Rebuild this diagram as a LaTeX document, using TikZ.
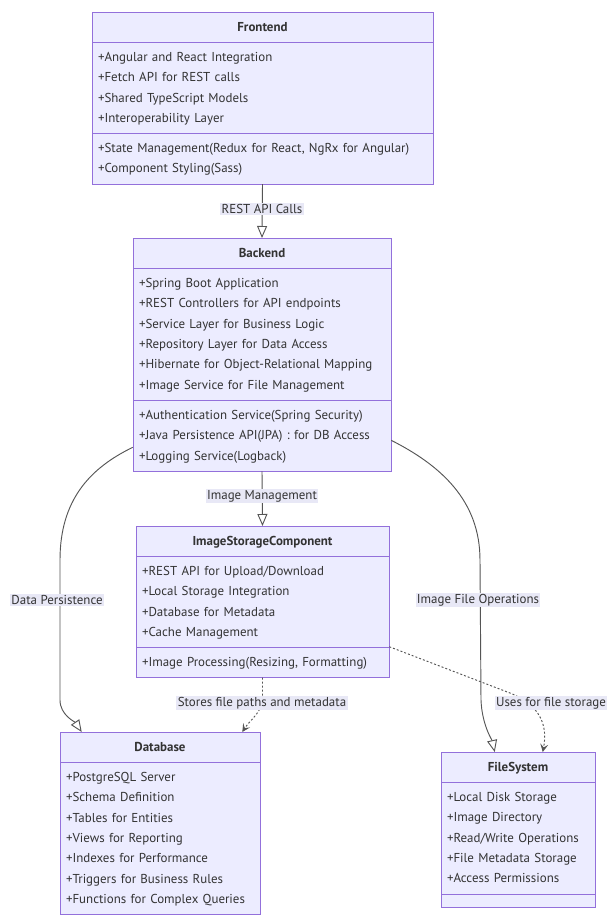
\documentclass[tikz,border=0pt]{standalone}
\usepackage{fontspec}
\setmainfont{PT Sans}
\usetikzlibrary{shapes.multipart, arrows.meta, calc}

\definecolor{clsfill}{HTML}{ECECFF}
\definecolor{clsline}{HTML}{9370DB}
\definecolor{clstext}{HTML}{333333}
\definecolor{edgeline}{HTML}{555555}
\definecolor{lblfill}{HTML}{E8E8F6}

\begin{document}
\begin{tikzpicture}[x=0.75pt, y=-0.75pt]
    \tikzset{umlclass/.style={rectangle split, rectangle split parts=3,
            draw=clsline, fill=clsfill, text=clstext, align=left,
            inner xsep=4.5pt, inner ysep=3.4pt, anchor=north,
            font=\fontsize{9.7}{15.3}\selectfont},
        umlclasstwo/.style={umlclass, rectangle split parts=2},
        edge/.style={draw=edgeline, line width=0.7pt},
        inherit/.style={edge,
            -{Triangle[open, fill=white, length=9pt, width=7.5pt]}},
        depend/.style={edge, dash pattern=on 1.5pt off 1.5pt,
            -{Stealth[length=6pt, width=6pt, inset=2.5pt]}},
        edgelabel/.style={fill=lblfill, text=clstext, inner sep=1pt,
            font=\fontsize{9.7}{15.3}\selectfont}
    }
    \useasboundingbox (0,0) rectangle (608,915);
    % classes
    \node [umlclass, text width=246.75pt] (fe) at (262.5,12)
        {\hspace*{\fill}\strut\textbf{Frontend}\hspace*{\fill}
        \nodepart{two}\strut+Angular and React Integration\\
        \strut+Fetch API for REST calls\\
        \strut+Shared TypeScript Models\\
        \strut+Interoperability Layer
        \nodepart{three}\strut+State Management(Redux for React, NgRx for Angular)\\
        \strut+Component Styling(Sass)};
    \node [umlclass, text width=184.5pt] (be) at (262,238)
        {\hspace*{\fill}\strut\textbf{Backend}\hspace*{\fill}
        \nodepart{two}\strut+Spring Boot Application\\
        \strut+REST Controllers for API endpoints\\
        \strut+Service Layer for Business Logic\\
        \strut+Repository Layer for Data Access\\
        \strut+Hibernate for Object-Relational Mapping\\
        \strut+Image Service for File Management
        \nodepart{three}\strut+Authentication Service(Spring Security)\\
        \strut+Java Persistence API(JPA) : for DB Access\\
        \strut+Logging Service(Logback)};
    \node [umlclass, text width=180.75pt] (isc) at (262.5,526)
        {\hspace*{\fill}\strut\textbf{ImageStorageComponent}\hspace*{\fill}
        \nodepart{two}\strut+REST API for Upload/Download\\
        \strut+Local Storage Integration\\
        \strut+Database for Metadata\\
        \strut+Cache Management
        \nodepart{three}\strut+Image Processing(Resizing, Formatting)};
    \node [umlclasstwo, text width=141pt] (db) at (160,732)
        {\hspace*{\fill}\strut\textbf{Database}\hspace*{\fill}
        \nodepart{two}\strut+PostgreSQL Server\\
        \strut+Schema Definition\\
        \strut+Tables for Entities\\
        \strut+Views for Reporting\\
        \strut+Indexes for Performance\\
        \strut+Triggers for Business Rules\\
        \strut+Functions for Complex Queries};
    \node [umlclass, text width=106.5pt] (fs) at (518,752)
        {\hspace*{\fill}\strut\textbf{FileSystem}\hspace*{\fill}
        \nodepart{two}\strut+Local Disk Storage\\
        \strut+Image Directory\\
        \strut+Read/Write Operations\\
        \strut+File Metadata Storage\\
        \strut+Access Permissions
        \nodepart{three}\rule{0pt}{2.9pt}};
    % connectors
    \draw [inherit] (fe.south) -- (be.north);
    \draw [inherit] (be.south) -- (isc.north);
    \draw [inherit] ($(be.south west)+(0,-24)$)
        .. controls (90,468) and (60,500) .. (60,560) -- (60,700)
        .. controls (60,715) and (75,722) .. ($(db.north west)+(22,0)$);
    \draw [inherit] ($(be.south east)+(0,-31)$)
        .. controls (440,465) and (480,500) .. (480,560) -- (481,700)
        .. controls (482,725) and (492,740) .. ($(fs.north west)+(54,0)$);
    \draw [depend] (isc.south) -- ($(isc.south)+(0,22)$)
        .. controls (262,712) and (250,720) .. ($(db.north east)+(-18,0)$);
    \draw [depend] ($(isc.south east)+(0,-31)$) -- (510,693)
        .. controls (540,705) and (548,725) .. ($(fs.north west)+(102,0)$);
    % edge labels
    \node [edgelabel] (lrest) at (262,209) {REST API Calls};
    \node [edgelabel] (limg) at (262,496) {Image Management};
    \node [edgelabel] (lpers) at (57,600) {Data Persistence};
    \node [edgelabel] (lfile) at (478,600) {Image File Operations};
    \node [edgelabel] (lstore) at (262,703) {Stores file paths and metadata};
    \node [edgelabel] (luses) at (551,703) {Uses for file storage};
\end{tikzpicture}
\end{document}
